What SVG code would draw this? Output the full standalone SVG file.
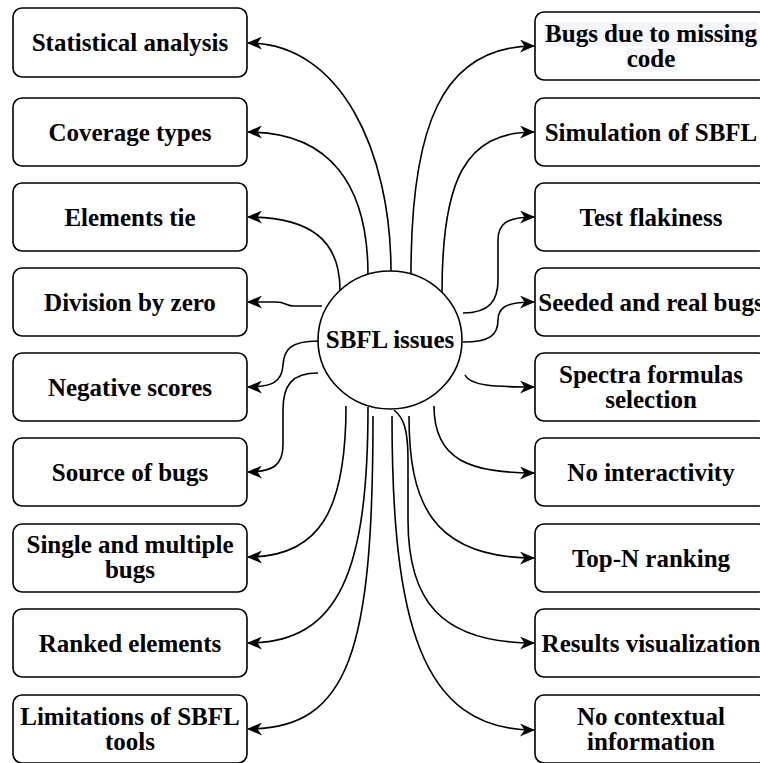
<svg xmlns="http://www.w3.org/2000/svg" width="760" height="763" viewBox="0 0 760 763">
<defs>
<marker id="arr" markerUnits="userSpaceOnUse" viewBox="0 0 15 13" refX="14" refY="6.5" markerWidth="15" markerHeight="13" orient="auto">
<path d="M0,0 L15,6.5 L0,13 L4.5,6.5 Z" fill="#000"/>
</marker>
</defs>
<style>
.box{fill:#fff;stroke:#000;stroke-width:1.6}
.t{font-family:"Liberation Serif","Times New Roman",serif;font-weight:bold;font-size:25px;fill:#000;text-anchor:middle}
.c{fill:none;stroke:#000;stroke-width:1.6;marker-end:url(#arr)}
.hl{fill:#f3f5f8}
</style>
<rect width="760" height="763" fill="#fff"/>
<g id="connectors">
<path class="c" d="M391 272 C391 150 340 43 248 43"/>
<path class="c" d="M368 275 C368 185 330 132 248 132"/>
<path class="c" d="M340 290 C340 240 310 217 248 217"/>
<path class="c" d="M322 306 L294 306 C286 306 286 302 276 302 L248 302"/>
<path class="c" d="M318 341 C290 341 284 350 283 365 C282 382 272 387 248 387"/>
<path class="c" d="M318 373 C292 373 283 385 283 410 L283 445 C283 465 273 472 248 472"/>
<path class="c" d="M346 406 C346 510 320 557 248 557"/>
<path class="c" d="M368 407 C368 570 340 643 248 643"/>
<path class="c" d="M373 416 C373 650 350 729 248 729"/>
<path class="c" d="M411 274 C411 130 440 46 534 46"/>
<path class="c" d="M442 292 C442 180 465 132 534 132"/>
<path class="c" d="M463 313 C490 313 498 300 498 280 L498 240 C498 225 505 217 534 217"/>
<path class="c" d="M463 342 C490 342 498 335 498 320 C498 308 505 302 534 302"/>
<path class="c" d="M465 375 C470 385 490 387 534 387"/>
<path class="c" d="M434 406 C434 460 470 473 534 473"/>
<path class="c" d="M409 416 C409 500 430 558 534 558"/>
<path class="c" d="M394 410 C404 418 408 430 408 460 L408 520 C408 600 440 643 534 643"/>
<path class="c" d="M392 416 C392 620 420 730 534 730"/>
</g>
<g id="center">
<ellipse cx="390" cy="340" rx="72" ry="69" fill="#fff" stroke="#000" stroke-width="1.6"/>
<text class="t" x="390" y="348">SBFL issues</text>
</g>
<g id="n-statistical"><rect class="box" x="13" y="8" width="234" height="69" rx="9"/><text class="t" x="130" y="51">Statistical analysis</text></g>
<g id="n-coverage"><rect class="box" x="13" y="98" width="234" height="68" rx="9"/><text class="t" x="130" y="140.5">Coverage types</text></g>
<g id="n-tie"><rect class="box" x="13" y="183" width="234" height="68" rx="9"/><text class="t" x="130" y="225.5">Elements tie</text></g>
<g id="n-division"><rect class="box" x="13" y="268" width="234" height="68" rx="9"/><text class="t" x="130" y="310.5">Division by zero</text></g>
<g id="n-negative"><rect class="box" x="13" y="353" width="234" height="68" rx="9"/><text class="t" x="130" y="395.5">Negative scores</text></g>
<g id="n-source"><rect class="box" x="13" y="438" width="234" height="68" rx="9"/><text class="t" x="130" y="480.5">Source of bugs</text></g>
<g id="n-single"><rect class="box" x="13" y="524" width="234" height="68" rx="9"/><text class="t" x="130" y="553">Single and multiple</text><text class="t" x="130" y="578">bugs</text></g>
<g id="n-ranked"><rect class="box" x="13" y="609" width="234" height="68" rx="9"/><text class="t" x="130" y="651.5">Ranked elements</text></g>
<g id="n-limitations"><rect class="box" x="13" y="695" width="234" height="68" rx="9"/><text class="t" x="130" y="725">Limitations of SBFL</text><text class="t" x="130" y="750">tools</text></g>
<g id="n-missing"><rect class="box" x="535" y="12" width="232" height="68" rx="9"/><rect class="hl" x="544" y="22" width="214" height="24"/><rect class="hl" x="626" y="48" width="51" height="24"/><text class="t" x="651" y="42">Bugs due to missing</text><text class="t" x="651" y="67">code</text></g>
<g id="n-simulation"><rect class="box" x="535" y="98" width="232" height="68" rx="9"/><text class="t" x="651" y="140.5">Simulation of SBFL</text></g>
<g id="n-flakiness"><rect class="box" x="535" y="183" width="232" height="68" rx="9"/><text class="t" x="651" y="225.5">Test flakiness</text></g>
<g id="n-seeded"><rect class="box" x="535" y="268" width="232" height="68" rx="9"/><text class="t" x="651" y="310.5">Seeded and real bugs</text></g>
<g id="n-spectra"><rect class="box" x="535" y="353" width="232" height="68" rx="9"/><text class="t" x="651" y="383">Spectra formulas</text><text class="t" x="651" y="408">selection</text></g>
<g id="n-interactivity"><rect class="box" x="535" y="438" width="232" height="68" rx="9"/><text class="t" x="651" y="480.5">No interactivity</text></g>
<g id="n-topn"><rect class="box" x="535" y="524" width="232" height="68" rx="9"/><text class="t" x="651" y="566.5">Top-N ranking</text></g>
<g id="n-results"><rect class="box" x="535" y="609" width="232" height="68" rx="9"/><text class="t" x="651" y="651.5">Results visualization</text></g>
<g id="n-contextual"><rect class="box" x="535" y="695" width="232" height="68" rx="9"/><text class="t" x="651" y="725">No contextual</text><text class="t" x="651" y="750">information</text></g>
</svg>
